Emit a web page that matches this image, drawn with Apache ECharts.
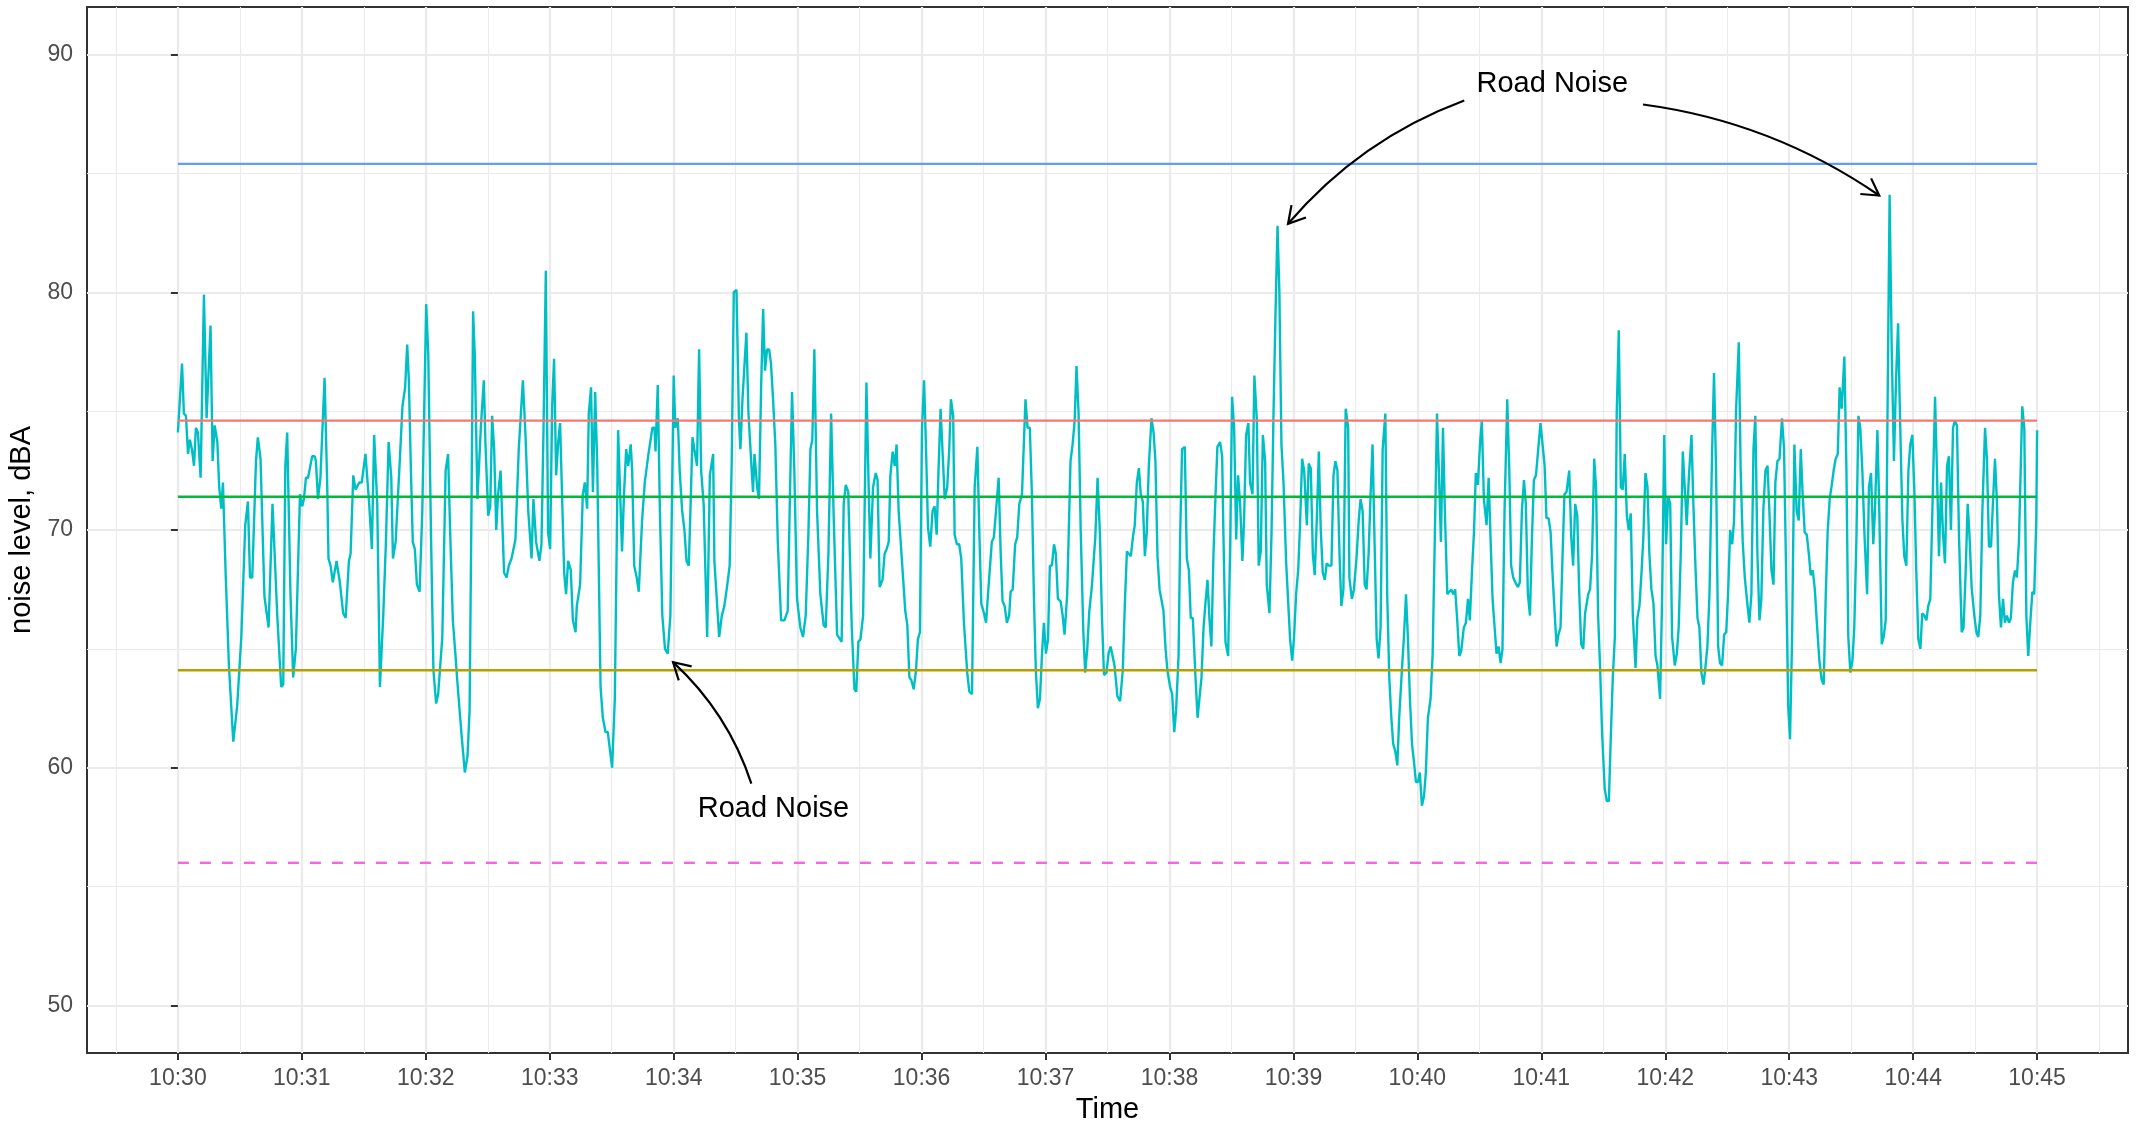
<!DOCTYPE html>
<html>
<head>
<meta charset="utf-8">
<script src="https://cdn.jsdelivr.net/npm/echarts@6/dist/echarts.min.js"></script>
<style>
html,body{margin:0;padding:0;background:#fff;}
#chart{width:2142px;height:1125px;}
</style>
</head>
<body>
<div id="chart"></div>
<script>
// seconds after 10:30:00, noise level (dBA)
const noiseReadings = [
[0,74.1],[2.0,77.0],[2.9,74.9],[3.9,74.8],[4.9,73.2],[5.8,73.8],[6.8,73.4],[7.8,72.7],[8.7,74.3],[9.7,74.1],[11.0,72.2],[12.6,79.9],[13.9,74.7],[15.8,78.6],[16.8,72.9],[17.8,74.4],[19.1,73.7],[20.0,71.8],[21.0,70.9],[21.8,72.0],[23.1,68.2],[24.7,64.3],[26.8,61.1],[28.7,62.6],[30.7,65.5],[32.6,70.2],[33.9,71.2],[34.9,68.0],[36.0,68.0],[37.8,72.9],[38.7,73.9],[40.0,73.0],[41.9,67.2],[43.9,65.9],[45.8,71.1],[48.1,66.4],[50.0,63.4],[51.0,63.5],[52.0,72.7],[52.9,74.1],[54.5,67.3],[55.8,63.8],[57.1,65.0],[59.1,71.5],[60.2,71.0],[61.0,71.3],[62.0,72.2],[63.0,72.2],[65.0,73.1],[66.2,73.1],[66.8,72.9],[67.8,71.3],[69.0,72.2],[71.0,76.4],[72.3,71.8],[72.9,68.8],[73.9,68.5],[75.0,67.8],[76.8,68.7],[78.4,67.8],[80.0,66.5],[81.2,66.3],[82.8,68.7],[83.6,69.0],[84.9,72.3],[86.0,71.7],[87.8,72.0],[89.0,72.0],[90.8,73.2],[92.6,71.1],[93.9,69.2],[95.0,74.0],[96.5,71.1],[97.8,63.4],[99.4,66.4],[100.7,69.5],[102.0,73.7],[103.3,72.2],[104.1,68.8],[105.4,69.5],[107.4,72.9],[108.7,75.2],[110.0,76.0],[111.0,77.8],
[111.8,76.3],[112.8,72.5],[113.7,69.5],[114.7,69.2],[115.7,67.7],[117.0,67.4],[118.3,70.8],[119.2,74.9],[120.2,79.5],[121.2,77.4],[122.5,69.9],[123.7,64.1],[125.0,62.7],[126.0,63.1],[128.0,65.5],[129.6,72.5],[130.8,73.2],[131.8,69.9],[133.1,66.2],[134.4,64.7],[135.2,63.7],[136.0,63.7],[137.3,61.4],[138.9,59.8],[140.2,60.5],[141.2,62.4],[142.1,70.8],[142.9,79.2],[143.7,77.4],[145.0,71.3],[146.7,74.4],[148.1,76.3],[148.9,73.6],[150.2,70.6],[151.2,71.0],[152.1,74.8],[153.1,73.4],[154.1,70.0],[155.0,71.5],[156.2,72.5],[157.3,69.7],[157.9,68.2],[159.1,68.0],[160.2,68.5],[161.5,68.8],[163.4,69.6],[165.0,73.4],[167.0,76.3],[168.3,73.9],[169.6,70.8],[171.2,68.8],[172.1,71.3],[173.4,69.5],[175.0,68.7],[176.0,69.4],[177.0,74.3],[178.1,80.9],[179.2,69.9],[180.2,69.2],[181.2,75.3],[182.1,77.2],[183.1,72.3],[184.1,73.7],[185.0,74.5],[187.0,68.2],[187.9,67.3],[188.9,68.7],[190.2,68.3],[191.2,66.2],[192.5,65.7],[193.1,66.8],[194.7,67.7],[196.0,71.5],[197.0,72.0],[198.1,70.9],[198.9,74.9],[200.0,76.0],[200.9,71.6],[202.0,75.8],[203.0,72.7],[204.6,63.4],[205.7,62.1],[207.0,61.5],[208.1,61.5],[210.2,60.0],[211.5,62.9],[213.1,74.2],[215.0,69.1],[216.0,71.6],[217.0,73.4],[218.0,72.7],[219.2,73.6],[219.9,72.5],[220.9,68.5],[222.1,68.0],[223.1,67.4],[224.7,70.4],[226.0,72.0],
[227.8,73.2],[229.7,74.3],[230.7,74.3],[231.2,73.3],[232.3,76.1],[233.3,70.9],[234.5,66.4],[235.8,65.0],[237.1,64.8],[238.4,66.4],[240.0,76.5],[240.8,74.3],[242.0,74.7],[242.9,72.5],[244.1,70.8],[245.2,70.0],[246.2,68.7],[247.3,68.5],[248.1,70.8],[249.1,73.9],[250.0,73.4],[251.3,72.7],[252.3,77.6],[253.3,72.5],[254.5,71.1],[256.2,65.5],[257.5,72.3],[259.1,73.2],[259.7,68.7],[262.0,65.5],[263.3,66.4],[264.5,66.8],[265.8,67.6],[267.1,68.5],[268.1,72.9],[269.1,80.0],[270.4,80.1],[271.6,74.6],[272.3,73.4],[273.3,75.5],[275.2,78.3],[276.2,74.9],[277.5,72.9],[278.4,71.6],[279.1,73.2],[280.4,71.8],[281.3,71.3],[282.3,75.9],[283.3,79.3],[284.2,76.7],[285.2,77.6],[286.2,77.6],[287.1,77.0],[288.1,75.5],[289.2,73.6],[290.4,69.5],[292.0,66.2],[293.6,66.2],[295.2,66.6],[296.2,71.1],[297.3,75.8],[298.4,72.5],[299.7,67.1],[301.3,65.9],[302.6,65.5],[303.9,66.4],[305.2,69.8],[306.2,73.4],[307.1,73.8],[308.1,77.6],[309.4,70.8],[311.0,67.3],[312.6,66.0],[313.6,65.9],[314.9,69.0],[316.2,74.9],[317.5,70.4],[319.1,65.6],[320.0,65.6],[321.3,65.3],[322.3,71.1],[323.3,71.9],[324.5,71.6],[326.2,65.9],[327.5,63.3],[328.4,63.2],[329.4,65.3],[330.4,65.4],[331.7,66.4],[333.3,76.2],[334.2,72.5],[335.2,68.8],[336.5,71.8],[337.8,72.4],[338.7,72.1],[339.7,67.6],
[341.1,67.9],[342.1,69.0],[343.1,69.2],[344.1,69.5],[344.9,72.3],[346.0,73.3],[347.0,72.7],[347.9,73.6],[348.9,70.8],[350.5,68.7],[352.1,66.6],[353.1,66.0],[354.1,63.8],[355.0,63.7],[356.2,63.3],[357.3,64.1],[358.2,65.4],[359.2,65.7],[360.2,74.3],[361.2,76.3],[362.1,73.6],[363.1,70.1],[364.2,69.3],[365.3,70.8],[366.3,71.0],[367.3,69.8],[368.2,72.5],[369.2,75.1],[370.2,73.2],[371.2,71.3],[372.4,71.8],[373.4,73.4],[374.2,75.5],[375.3,74.8],[376.0,69.8],[377.1,69.4],[378.2,69.4],[379.2,68.8],[380.5,66.1],[382.1,64.0],[383.1,63.2],[384.4,63.1],[385.7,71.8],[387.0,73.5],[387.9,70.1],[388.9,66.9],[390.2,66.5],[391.2,66.1],[392.4,67.6],[394.0,69.5],[395.0,69.7],[396.3,71.1],[397.3,72.2],[398.3,69.0],[399.2,67.0],[400.2,66.8],[401.3,66.1],[402.4,66.4],[403.1,67.4],[404.1,67.5],[405.3,69.4],[406.3,69.7],[407.3,71.1],[408.6,71.5],[409.4,71.5],[410.3,75.5],[411.3,74.3],[412.4,74.3],[413.4,71.5],[414.4,67.1],[415.3,64.1],[416.3,62.5],[417.3,62.9],[418.3,64.8],[419.2,66.1],[420.2,64.8],[421.2,65.4],[422.1,68.5],[423.1,68.5],[424.1,69.4],[425.0,69.0],[426.0,67.1],[427.3,67.0],[428.3,66.4],[429.2,65.6],[430.5,67.3],[432.1,72.9],[433.1,73.6],[434.1,74.6],[435.0,76.9],[436.0,74.9],[437.0,70.1],[438.3,65.7],[439.2,64.0],[440.2,65.0],[441.2,66.6],[442.4,67.6],[444.1,69.7],[445.2,72.2],[446.3,69.9],[447.3,66.4],[448.3,63.9],[449.5,64.0],[450.5,64.8],[451.5,65.1],[452.4,65.1],[453.4,64.3],
[454.8,63.0],[456.1,62.8],[457.4,64.1],[458.4,66.9],[459.4,69.1],[460.3,69.0],[461.3,68.9],[462.3,69.7],[463.2,70.2],[464.2,72.0],[465.2,72.6],[466.1,71.5],[467.1,71.2],[468.1,68.9],[469.0,69.9],[470.0,72.7],[471.3,74.7],[472.3,74.1],[473.2,72.9],[474.2,68.9],[475.2,67.5],[476.1,67.5],[477.1,66.6],[478.1,65.0],[479.0,64.1],[480.3,63.4],[481.3,63.1],[482.3,61.5],[483.2,62.4],[484.4,64.7],[485.2,69.9],[486.1,73.4],[487.4,73.5],[488.4,68.8],[489.4,68.3],[490.3,66.3],[491.3,66.3],[492.6,63.8],[493.6,62.1],[494.5,62.1],[495.5,63.8],[496.5,65.9],[497.4,66.9],[498.4,67.9],[499.4,66.2],[500.3,65.1],[501.3,69.0],[502.3,71.5],[503.2,73.5],[504.5,73.7],[505.5,73.1],[506.1,69.9],[507.1,65.3],[508.4,64.7],[509.4,69.4],[510.3,75.6],[511.3,74.3],[512.3,69.6],[513.2,72.3],[514.2,71.1],[515.3,68.7],[516.1,70.4],[517.1,74.0],[518.2,74.5],[519.0,72.0],[520.2,71.5],[521.1,76.5],[522.3,74.6],[523.2,68.5],[524.2,69.1],[525.2,74.0],[526.3,72.9],[527.1,67.7],[528.4,66.5],[529.4,69.9],[530.3,74.6],[531.3,79.0],[532.3,82.8],[533.2,80.0],[534.2,73.6],[535.2,72.0],[536.5,68.6],[537.8,66.4],[538.4,65.4],[539.4,64.5],[540.3,65.5],[541.3,67.3],[542.3,68.3],[543.2,70.2],[544.2,73.0],[545.2,72.5],[546.5,70.2],[547.4,72.8],[548.4,72.6],[549.4,69.0],[550.3,68.1],[551.3,70.4],[552.3,73.3],[553.2,70.1],[554.2,68.2],[555.2,67.9],[556.1,68.6],[557.1,68.5],[558.4,68.5],[559.4,72.3],[560.3,72.9],[561.3,72.5],[562.3,69.0],[563.2,66.8],[564.2,67.5],[565.3,75.1],[566.5,74.3],[567.1,68.0],
[568.3,67.1],[569.3,67.5],[570.6,68.9],[571.6,70.4],[572.5,71.3],[573.5,70.8],[574.5,67.7],[575.4,67.5],[576.4,69.0],[577.4,71.6],[578.3,73.6],[579.3,69.4],[580.3,65.4],[581.2,64.6],[582.2,65.9],[583.2,73.4],[584.5,74.9],[585.4,67.3],[586.4,63.8],[587.4,62.1],[588.3,61.0],[589.3,60.7],[590.3,60.1],[591.2,62.1],[592.5,64.1],[593.5,65.5],[594.5,67.3],[595.4,65.5],[596.4,62.9],[597.4,61.0],[598.3,60.3],[599.3,59.4],[600.3,59.4],[601.2,59.8],[602.2,58.4],[603.2,58.8],[604.1,59.8],[605.1,62.1],[606.4,62.9],[607.4,64.8],[608.3,69.0],[609.5,74.9],[610.4,72.5],[611.4,69.5],[612.4,74.3],[613.3,70.8],[614.5,67.3],[615.4,67.3],[616.4,67.5],[617.4,67.3],[618.3,67.5],[619.3,66.2],[620.3,64.7],[621.2,64.9],[622.5,65.9],[623.5,66.1],[624.5,67.1],[625.4,66.2],[626.4,68.2],[627.4,69.9],[628.3,72.4],[629.3,71.9],[630.3,73.6],[631.2,74.6],[632.2,71.3],[633.5,70.2],[634.5,72.2],[635.4,69.7],[636.4,67.1],[637.4,65.9],[638.3,64.8],[639.3,65.1],[640.3,64.4],[641.2,65.0],[642.2,70.8],[643.5,75.5],[644.5,72.5],[645.4,68.5],[646.4,68.0],[647.4,67.8],[648.7,67.6],[649.6,67.8],[650.6,70.8],[651.6,72.1],[652.5,71.1],[653.5,67.3],[654.5,66.4],[655.4,69.5],[656.4,72.1],[657.4,72.3],[658.3,72.3],[659.6,74.5],[660.6,73.6],[661.6,72.7],[662.5,70.5],[663.5,70.5],[664.5,69.9],[665.4,68.2],[666.4,66.6],[667.4,65.1],[668.3,65.6],[669.3,65.9],[670.3,69.0],[671.2,71.5],[672.2,71.6],[673.5,72.5],[674.5,69.7],[675.4,68.5],[676.4,71.1],[677.4,70.6],[678.3,67.5],[679.3,65.2],[680.3,65.0],[681.2,66.5],
[682.7,67.3],[683.6,67.5],[684.6,69.0],[685.6,73.0],[686.5,71.8],[687.5,66.4],[688.5,64.1],[689.4,61.5],[690.7,59.1],[691.7,58.6],[692.7,58.6],[693.6,61.2],[694.6,63.8],[695.6,65.5],[696.5,74.9],[697.5,78.4],[698.5,71.8],[699.4,71.7],[700.4,73.2],[701.4,70.6],[702.3,70.0],[703.3,70.7],[704.3,66.4],[705.6,64.2],[706.5,66.3],[707.5,66.8],[708.5,68.2],[709.4,69.7],[710.4,72.4],[711.4,71.8],[712.3,69.0],[713.3,67.5],[714.3,66.9],[715.3,64.7],[716.2,64.3],[717.5,62.9],[718.5,67.3],[719.5,74.0],[720.4,69.4],[721.4,71.4],[722.4,71.1],[723.3,65.5],[724.6,64.3],[725.6,64.8],[726.5,65.9],[727.5,69.0],[728.5,73.3],[729.4,73.3],[730.4,70.2],[731.4,72.2],[732.7,74.0],[733.6,71.1],[734.6,68.5],[735.6,66.3],[736.5,65.9],[737.5,64.0],[738.5,63.5],[739.4,64.2],[740.4,65.1],[741.4,67.3],[742.7,73.4],[743.6,76.6],[744.6,72.5],[745.6,65.1],[746.5,64.4],[747.5,64.3],[748.5,65.6],[749.5,65.7],[750.4,67.3],[751.4,70.0],[752.4,69.4],[753.3,70.4],[754.3,75.1],[755.6,77.9],[756.5,72.5],[757.5,69.5],[758.5,68.0],[759.5,67.1],[760.7,66.1],[761.7,67.3],[762.7,73.4],[763.6,74.8],[764.6,69.0],[765.6,66.2],[766.5,67.1],[767.5,70.9],[768.5,72.5],[769.5,72.7],[770.4,70.8],[771.4,68.3],[772.4,67.7],[773.3,72.0],[774.3,72.9],[775.3,73.0],[776.5,74.7],[777.5,73.4],[778.5,68.2],[779.5,62.6],[780.4,61.2],[781.4,65.5],[782.5,73.6],[783.6,70.8],[784.6,70.4],[785.6,73.4],[786.5,71.5],[787.5,69.9],[788.5,69.8],[789.5,69.0],[790.4,68.1],[791.4,68.3],[792.4,67.5],[793.3,66.2],[794.6,64.5],
[795.7,63.7],[796.7,63.5],[797.7,67.3],[798.6,69.9],[799.6,71.3],[800.6,71.9],[801.5,72.5],[802.5,73.0],[803.5,73.2],[804.4,76.0],[805.4,75.1],[806.7,77.3],[807.7,72.5],[808.6,65.5],[809.6,64.0],[810.6,64.5],[811.5,65.9],[812.5,69.5],[813.5,74.8],[814.4,74.3],[815.4,72.5],[816.4,69.9],[817.7,67.3],[818.6,71.8],[819.6,72.4],[820.7,69.4],[821.5,70.8],[822.7,74.2],[823.6,70.8],[824.8,65.2],[825.7,65.5],[826.7,66.2],[827.7,76.0],[828.6,84.1],[829.6,77.7],[830.7,72.9],[831.7,76.3],[832.7,78.7],[833.6,74.9],[834.8,70.4],[835.7,68.9],[836.7,68.5],[837.7,72.5],[838.6,73.6],[839.6,74.0],[840.6,71.6],[841.5,68.3],[842.5,65.4],[843.5,65.0],[844.4,66.5],[845.4,66.4],[846.4,66.2],[847.3,66.8],[848.3,67.1],[849.3,70.8],[850.6,75.6],[851.5,72.5],[852.5,68.9],[853.5,72.0],[854.4,69.9],[855.4,68.6],[856.4,72.7],[857.3,73.1],[858.3,70.0],[859.3,74.3],[860.2,74.6],[861.2,74.4],[862.2,69.7],[863.5,65.7],[864.4,65.9],[865.4,68.2],[866.4,71.1],[867.3,69.7],[868.3,67.6],[869.6,66.4],[870.6,65.7],[871.5,65.5],[872.5,66.4],[873.5,70.8],[874.8,74.3],[875.7,73.0],[876.7,69.3],[877.7,69.3],[878.6,71.1],[879.6,73.0],[880.6,71.1],[881.5,67.3],[882.5,65.9],[883.5,67.1],[884.4,66.1],[885.4,66.4],[886.4,66.1],[887.3,66.3],[888.3,67.8],[889.3,68.3],[890.2,68.0],[891.2,69.5],[892.8,75.2],[893.8,74.3],[894.8,66.4],[895.7,64.7],[896.7,66.1],[897.7,67.4],[898.6,67.3],[899.6,70.4],[900,74.2]
];

// reference levels (dBA), drawn from 10:30 to 10:45
const referenceLevels = [85.4, 74.6, 71.4, 64.1, 56.0];
const referenceSpan = [0, 900];

// tick positions (seconds after 10:30:00) and labels
const xMajorTicks = [0,60,120,180,240,300,360,420,480,540,600,660,720,780,840,900];
const xMinorTicks = [-30,30,90,150,210,270,330,390,450,510,570,630,690,750,810,870,930];
const xTickLabels = ['10:30','10:31','10:32','10:33','10:34','10:35','10:36','10:37','10:38','10:39','10:40','10:41','10:42','10:43','10:44','10:45'];
const yMajorTicks = [50,60,70,80,90];
const yMinorTicks = [55,65,75,85];

// annotations: text [seconds, dBA, label]; arrows [fromSec, fromDb, toSec, toDb, curvature]
const annotationTexts = [[665.3, 88.75, 'Road Noise'], [288.3, 58.25, 'Road Noise']];
const annotationArrows = [
  [622.7, 88.07, 537.4, 82.88, -0.13],
  [709.2, 87.9, 823.6, 84.07, 0.12],
  [277.6, 59.33, 239.7, 64.44, -0.13]
];

const FONT = 'Liberation Sans, Arial, Helvetica, sans-serif';
const refColors = ['#619CFF', '#F8766D', '#00BA38', '#B79F00', '#F564E3'];

const chart = echarts.init(document.getElementById('chart'), null, {renderer: 'canvas'});

const hiddenAxisParts = {
  axisLine: {show: false}, axisTick: {show: false}, axisLabel: {show: false}
};

const series = [];
series.push({
  type: 'line',
  name: 'noise',
  data: noiseReadings,
  showSymbol: false,
  symbol: 'none',
  sampling: null,
  lineStyle: {color: '#00BFC4', width: 2.4},
  z: 3,
  silent: true
});
referenceLevels.forEach((lv, i) => {
  series.push({
    type: 'line',
    data: [[referenceSpan[0], lv], [referenceSpan[1], lv]],
    showSymbol: false,
    symbol: 'none',
    lineStyle: {color: refColors[i], width: 2.4, type: i === 4 ? [11, 11] : 'solid'},
    z: 4,
    silent: true
  });
});
series.push({
  type: 'custom',
  coordinateSystem: 'cartesian2d',
  data: annotationArrows,
  encode: {x: [0, 2], y: [1, 3]},
  clip: false,
  silent: true,
  z: 6,
  renderItem: function (params, api) {
    const p1 = api.coord([api.value(0), api.value(1)]);
    const p2 = api.coord([api.value(2), api.value(3)]);
    const c = api.value(4);
    const cp = [(p1[0] + p2[0]) / 2 - (p1[1] - p2[1]) * c,
                (p1[1] + p2[1]) / 2 - (p2[0] - p1[0]) * c];
    const ang = Math.atan2(p2[1] - cp[1], p2[0] - cp[0]);
    const L = 19, a = Math.PI / 6;
    const head = [
      [p2[0] - L * Math.cos(ang - a), p2[1] - L * Math.sin(ang - a)],
      [p2[0], p2[1]],
      [p2[0] - L * Math.cos(ang + a), p2[1] - L * Math.sin(ang + a)]
    ];
    return {
      type: 'group',
      children: [
        {type: 'bezierCurve', shape: {x1: p1[0], y1: p1[1], x2: p2[0], y2: p2[1], cpx1: cp[0], cpy1: cp[1]},
         style: {stroke: '#000', lineWidth: 2.2, fill: null}},
        {type: 'polyline', shape: {points: head},
         style: {stroke: '#000', lineWidth: 2.2, fill: null}}
      ]
    };
  }
});
series.push({
  type: 'custom',
  coordinateSystem: 'cartesian2d',
  data: annotationTexts.map(d => [d[0], d[1]]),
  clip: false,
  silent: true,
  z: 7,
  renderItem: function (params, api) {
    const p = api.coord([api.value(0), api.value(1)]);
    return {
      type: 'text',
      x: p[0], y: p[1],
      style: {text: annotationTexts[params.dataIndex][2], fill: '#000', font: '29px ' + FONT,
              align: 'center', verticalAlign: 'middle'}
    };
  }
});

const option = {
  animation: false,
  backgroundColor: '#ffffff',
  textStyle: {fontFamily: FONT},
  grid: {left: 87, top: 7, right: 14, bottom: 72, outerBoundsMode: 'none', containLabel: false,
         show: true, borderColor: '#333333', borderWidth: 2, backgroundColor: '#ffffff'},
  xAxis: [
    {
      type: 'value', min: -44, max: 944,
      name: 'Time', nameLocation: 'middle', nameGap: 42,
      nameTextStyle: {fontSize: 29, color: '#000', fontFamily: FONT},
      axisLine: {show: false},
      axisTick: {show: true, length: 7, customValues: xMajorTicks, lineStyle: {color: '#333333', width: 2}},
      axisLabel: {show: true, customValues: xMajorTicks, margin: 14, fontSize: 23, color: '#4D4D4D', fontFamily: FONT,
        formatter: v => xTickLabels[xMajorTicks.indexOf(Math.round(v))]},
      splitLine: {show: true, lineStyle: {color: '#EBEBEB', width: 2.2}}
    },
    Object.assign({
      type: 'value', min: -44, max: 944, position: 'top',
      splitLine: {show: true, lineStyle: {color: '#EBEBEB', width: 1.1}}
    }, hiddenAxisParts, {axisTick: {show: false, customValues: xMinorTicks}})
  ],
  yAxis: [
    {
      type: 'value', min: 48, max: 92,
      name: 'noise level, dBA', nameLocation: 'middle', nameGap: 38,
      nameTextStyle: {fontSize: 29, color: '#000', fontFamily: FONT},
      axisLine: {show: false},
      axisTick: {show: true, length: 7, customValues: yMajorTicks, lineStyle: {color: '#333333', width: 2}},
      axisLabel: {show: true, customValues: yMajorTicks, margin: 14, fontSize: 23, color: '#4D4D4D', fontFamily: FONT},
      splitLine: {show: true, lineStyle: {color: '#EBEBEB', width: 2.2}}
    },
    Object.assign({
      type: 'value', min: 48, max: 92, position: 'right',
      splitLine: {show: true, lineStyle: {color: '#EBEBEB', width: 1.1}}
    }, hiddenAxisParts, {axisTick: {show: false, customValues: yMinorTicks}})
  ],
  series: series
};

chart.setOption(option);
</script>
</body>
</html>
